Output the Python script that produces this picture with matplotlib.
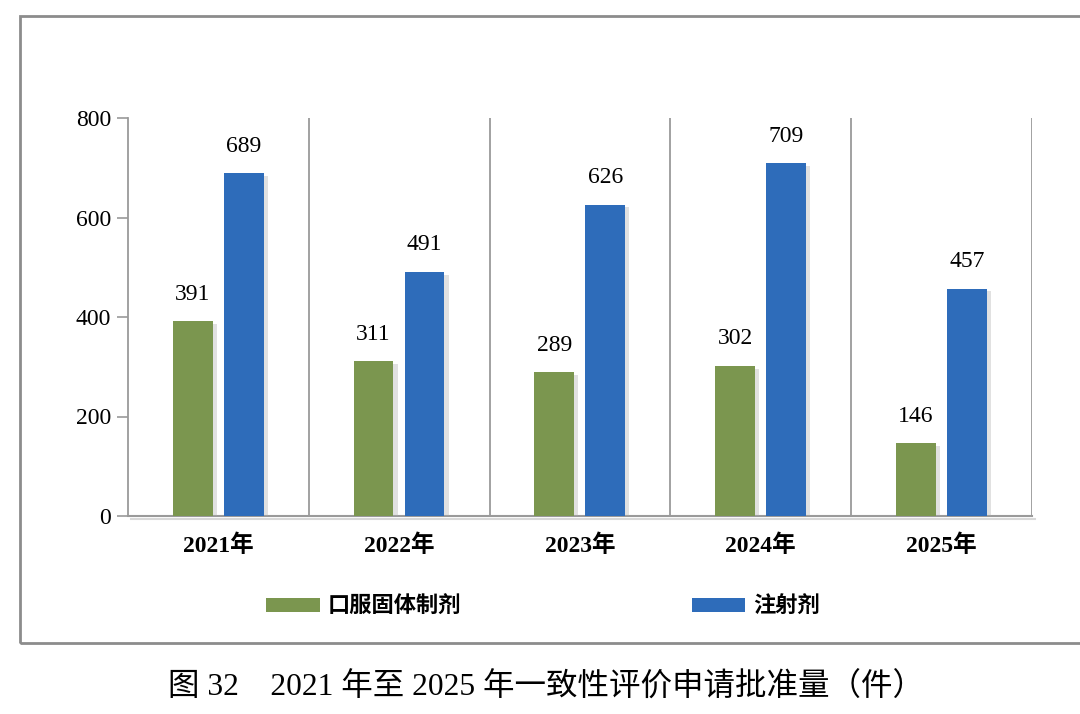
import numpy as np
import matplotlib.pyplot as plt
import matplotlib.patheffects as pe
from matplotlib.patches import Rectangle

plt.rcParams['font.family'] = ['Liberation Serif', 'Noto Sans CJK SC']

# data
years = ['2021年', '2022年', '2023年', '2024年', '2025年']
oral_solid = [391, 311, 289, 302, 146]
injection = [689, 491, 626, 709, 457]
yticks = [0, 200, 400, 600, 800]

green = '#7B964F'
blue = '#2E6CBA'
gray = '#9a9a9a'

fig = plt.figure(figsize=(10.8, 7.14), dpi=100)
ax = fig.add_axes([128/1080, 1-516/714, (1032-128)/1080, (516-118)/714])

# outer frame
fig.patches.append(Rectangle((20/1080, 1-643/714), 1.2, (643-16)/714, transform=fig.transFigure,
                             fill=False, edgecolor='#8c8c8c', linewidth=2))

x = np.arange(len(years))
w = 0.22
shadow = [pe.SimplePatchShadow(offset=(3, -2), shadow_rgbFace='#aaaaaa', alpha=0.35), pe.Normal()]
b1 = ax.bar(x - 0.142, oral_solid, w, color=green, label='口服固体制剂', zorder=3)
b2 = ax.bar(x + 0.14, injection, w, color=blue, label='注射剂', zorder=3)
for bars in (b1, b2):
    for r in bars:
        r.set_path_effects(shadow)

for bars, vals in ((b1, oral_solid), (b2, injection)):
    for r, v in zip(bars, vals):
        ax.annotate(str(v), (r.get_x() + r.get_width()/2, v), xytext=(0, 12),
                    textcoords='offset points', ha='center', va='bottom', fontsize=17)

ax.set_xlim(-0.5, 4.5)
ax.set_ylim(0, 800)
ax.set_yticks(yticks)
ax.set_xticks(x)
ax.set_xticklabels(years, fontsize=17, fontweight='bold')
ax.tick_params(axis='x', length=0, pad=13)
ax.tick_params(axis='y', labelsize=17, length=8, width=1.2, color=gray, direction='out', pad=4)

# category separators
line_shadow = [pe.SimpleLineShadow(offset=(2, -2), shadow_color='#aaaaaa', alpha=0.45), pe.Normal()]
for xs in np.arange(0.5, 5, 1):
    ln = ax.axvline(xs, color=gray, linewidth=1.3, zorder=1)
    if xs == 4.5:
        ln.set_path_effects(line_shadow)

for s in ('top', 'right'):
    ax.spines[s].set_visible(False)
ax.spines['left'].set_color(gray)
ax.spines['left'].set_linewidth(1.3)
ax.spines['bottom'].set_color(gray)
ax.spines['bottom'].set_linewidth(1.5)
ax.spines['bottom'].set_path_effects(line_shadow)

leg = fig.legend(handles=[b1, b2], loc='center', bbox_to_anchor=(543/1080, 1-607/714), ncol=2,
                 frameon=False, handlelength=2.4, handleheight=0.6, handletextpad=0.35,
                 columnspacing=10.4, prop={'size': 16, 'weight': 'bold'})
for h in leg.legend_handles:
    h.set_path_effects([])

fig.text(546/1080, 1-688/714, '图 32    2021 年至 2025 年一致性评价申请批准量（件）',
         ha='center', va='center', fontsize=22.7)

fig.savefig('out.png', dpi=100)
